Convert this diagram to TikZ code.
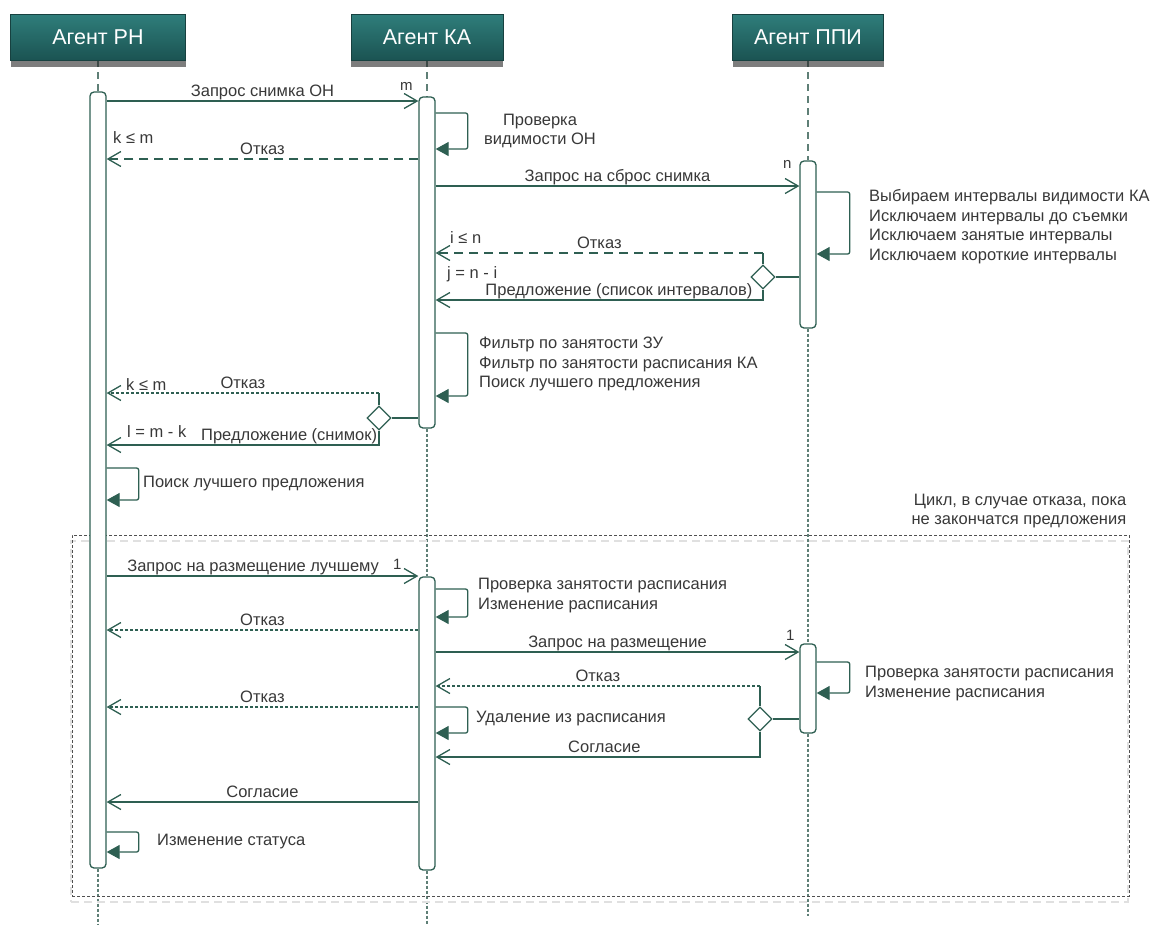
\documentclass[tikz,border=0pt]{standalone}
\usepackage{fontspec}
\setmainfont{Liberation Sans}
\usetikzlibrary{arrows.meta,positioning,shapes.geometric,shadows,backgrounds,fit,calc}
\definecolor{agent_header_top}{HTML}{2F7E7B}
\definecolor{agent_header_bottom}{HTML}{1B5352}
\definecolor{agent_header_border}{HTML}{174140}
\definecolor{message_line_colour}{HTML}{2E5F52}
\definecolor{lifeline_colour}{HTML}{5E7F76}
\definecolor{label_text_colour}{HTML}{383838}
\definecolor{loop_frame_colour}{HTML}{505050}
\tikzstyle{agent_header} = [rectangle,draw=agent_header_border,top color=agent_header_top,bottom color=agent_header_bottom,minimum height=46pt,text=white,font=\fontsize{21.5}{25}\selectfont,drop shadow={shadow xshift=0pt,shadow yshift=-7pt,opacity=0.6,fill=black!85}]
\tikzstyle{activation_bar} = [rectangle,rounded corners=4pt,draw=message_line_colour,fill=white,line width=1.3pt,minimum width=16pt,inner sep=0pt]
\tikzstyle{choice_diamond} = [diamond,draw=message_line_colour,fill=white,line width=1.3pt,minimum width=24pt,minimum height=24pt,inner sep=0pt]
\tikzstyle{plain_line} = [draw=message_line_colour,line width=1.3pt]
\tikzstyle{message} = [plain_line,-{Straight Barb[length=13pt,width=15pt]}]
\tikzstyle{reply_dashed} = [message,dash pattern=on 9pt off 6pt]
\tikzstyle{reply_dotted} = [message,dash pattern=on 3pt off 2pt]
\tikzstyle{self_loop} = [plain_line,rounded corners=2pt,-{Triangle[length=13pt,width=14pt]}]
\tikzstyle{lifeline_long} = [draw=lifeline_colour,line width=1.3pt,dash pattern=on 7pt off 5pt]
\tikzstyle{lifeline_short} = [draw=lifeline_colour,line width=1.3pt,dash pattern=on 3pt off 2pt]
\tikzstyle{loop_frame} = [draw=loop_frame_colour,line width=0.9pt,dash pattern=on 3pt off 2pt,inner sep=0pt]
\tikzstyle{message_label} = [font=\fontsize{16.5}{19.5}\selectfont,text=label_text_colour,inner sep=1pt,text depth=3pt]
\tikzstyle{note_text} = [font=\fontsize{16.5}{19.5}\selectfont,text=label_text_colour,inner sep=1pt,align=left,anchor=west]
\tikzstyle{guard_label} = [font=\fontsize{16.5}{19.5}\selectfont,text=label_text_colour,inner sep=0pt,anchor=base west]
\tikzstyle{count_label} = [font=\fontsize{15}{17}\selectfont,text=label_text_colour,inner sep=0pt,anchor=base west]

\begin{document}
\begin{tikzpicture}[x=1pt,y=-1pt]
    \useasboundingbox (0,0) rectangle (1155,930);

    % Agents
    \node[agent_header,minimum width=175pt] (agent_rn_header) at (98,37) {Агент РН};
    \node[agent_header,minimum width=152pt] (agent_ka_header) at (427,37) {Агент КА};
    \node[agent_header,minimum width=151pt] (agent_ppi_header) at (808,37) {Агент ППИ};

    % Activation bars
    \node[activation_bar,minimum height=776pt] (agent_rn_activation) at (98,480) {};
    \node[activation_bar,minimum height=331pt] (agent_ka_first_activation) at (427,262.5) {};
    \node[activation_bar,minimum height=293pt] (agent_ka_second_activation) at (427,723.5) {};
    \node[activation_bar,minimum height=167pt] (agent_ppi_first_activation) at (808,244.5) {};
    \node[activation_bar,minimum height=89pt] (agent_ppi_second_activation) at (808,688.5) {};

    % Lifelines
    \coordinate (agent_rn_end) at (98,925);
    \coordinate (agent_ka_end) at (427,925);
    \coordinate (agent_ppi_end) at (808,916);
    \begin{scope}[on background layer]
        \draw[lifeline_long] (agent_rn_header.south) -- (agent_rn_activation.north);
        \draw[lifeline_short] (agent_rn_activation.south) -- (agent_rn_end);
        \draw[lifeline_long] (agent_ka_header.south) -- (agent_ka_first_activation.north);
        \draw[lifeline_short] (agent_ka_first_activation.south) -- (agent_ka_second_activation.north);
        \draw[lifeline_short] (agent_ka_second_activation.south) -- (agent_ka_end);
        \draw[lifeline_long] (agent_ppi_header.south) -- (agent_ppi_first_activation.north);
        \draw[lifeline_short] (agent_ppi_first_activation.south) -- (agent_ppi_second_activation.north);
        \draw[lifeline_short] (agent_ppi_second_activation.south) -- (agent_ppi_end);
    \end{scope}

    % Photo request
    \coordinate (photo_request_row) at (0,101);
    \draw[message] (agent_rn_activation.east |- photo_request_row) -- (agent_ka_first_activation.west |- photo_request_row) node[message_label,midway,above]{Запрос снимка ОН};
    \node[count_label] (photo_request_count) at (400,90) {m};

    \coordinate (visibility_check_top) at (0,113);
    \coordinate (visibility_check_bottom) at (0,149);
    \draw[self_loop] (agent_ka_first_activation.east |- visibility_check_top) -- ++(32,0) |- (agent_ka_first_activation.east |- visibility_check_bottom);
    \node[note_text,align=center,anchor=center] (visibility_check_note) at (540,131) {Проверка\\видимости ОН};

    \coordinate (visibility_refusal_row) at (0,159);
    \draw[reply_dashed] (agent_ka_first_activation.west |- visibility_refusal_row) -- (agent_rn_activation.east |- visibility_refusal_row) node[message_label,midway,above]{Отказ};
    \node[guard_label] (visibility_refusal_guard) at (113,143) {k ≤ m};

    % Drop request to PPI
    \coordinate (drop_request_row) at (0,186);
    \draw[message] (agent_ka_first_activation.east |- drop_request_row) -- (agent_ppi_first_activation.west |- drop_request_row) node[message_label,midway,above]{Запрос на сброс снимка};
    \node[count_label] (drop_request_count) at (783,168) {n};

    \coordinate (interval_selection_top) at (0,192);
    \coordinate (interval_selection_bottom) at (0,254);
    \draw[self_loop] (agent_ppi_first_activation.east |- interval_selection_top) -- ++(33,0) |- (agent_ppi_first_activation.east |- interval_selection_bottom);
    \node[note_text] (interval_selection_note) at (868,226.5) {Выбираем интервалы видимости КА\\Исключаем интервалы до съемки\\Исключаем занятые интервалы\\Исключаем короткие интервалы};

    \node[choice_diamond] (interval_choice) at (763,277) {};
    \coordinate (interval_refusal_row) at (0,253);
    \coordinate (interval_offer_row) at (0,300);
    \draw[plain_line] (interval_choice.east) -- (agent_ppi_first_activation.west |- interval_choice);
    \draw[plain_line] (interval_choice.north) -- (interval_choice.north |- interval_refusal_row);
    \draw[reply_dashed] (interval_choice.north |- interval_refusal_row) -- (agent_ka_first_activation.east |- interval_refusal_row) node[message_label,midway,above]{Отказ};
    \draw[message] (interval_choice.south) |- (agent_ka_first_activation.east |- interval_offer_row) node[message_label,pos=0.72,above]{Предложение (список интервалов)};
    \node[guard_label] (interval_refusal_guard) at (450,243) {i ≤ n};
    \node[guard_label] (interval_offer_guard) at (447,278) {j = n - i};

    % Filtering on KA
    \coordinate (offer_filter_top) at (0,333);
    \coordinate (offer_filter_bottom) at (0,396);
    \draw[self_loop] (agent_ka_first_activation.east |- offer_filter_top) -- ++(32,0) |- (agent_ka_first_activation.east |- offer_filter_bottom);
    \node[note_text] (offer_filter_note) at (478,364) {Фильтр по занятости ЗУ\\Фильтр по занятости расписания КА\\Поиск лучшего предложения};

    \node[choice_diamond] (photo_choice) at (379,418) {};
    \coordinate (photo_refusal_row) at (0,393);
    \coordinate (photo_offer_row) at (0,445);
    \draw[plain_line] (photo_choice.east) -- (agent_ka_first_activation.west |- photo_choice);
    \draw[plain_line] (photo_choice.north) -- (photo_choice.north |- photo_refusal_row);
    \draw[reply_dotted] (photo_choice.north |- photo_refusal_row) -- (agent_rn_activation.east |- photo_refusal_row) node[message_label,midway,above]{Отказ};
    \draw[message] (photo_choice.south) |- (agent_rn_activation.east |- photo_offer_row) node[message_label,pos=0.665,above]{Предложение (снимок)};
    \node[guard_label] (photo_refusal_guard) at (126,390) {k ≤ m};
    \node[guard_label] (photo_offer_guard) at (127,437) {l = m - k};

    \coordinate (best_offer_top) at (0,468);
    \coordinate (best_offer_bottom) at (0,500);
    \draw[self_loop] (agent_rn_activation.east |- best_offer_top) -- ++(32,0) |- (agent_rn_activation.east |- best_offer_bottom);
    \node[note_text] (best_offer_note) at (142,484) {Поиск лучшего предложения};

    % Repeat frame
    \coordinate (repeat_frame_top_left) at (72,535);
    \coordinate (repeat_frame_bottom_right) at (1129,896);
    \begin{scope}[on background layer]
        \node[fit=(repeat_frame_top_left)(repeat_frame_bottom_right),inner sep=0pt,draw=black!12,line width=2.5pt,dash pattern=on 8pt off 5pt,xshift=-1pt,yshift=-6pt] (repeat_frame_shadow) {};
        \node[loop_frame,fit=(repeat_frame_top_left)(repeat_frame_bottom_right)] (repeat_frame) {};
    \end{scope}
    \node[note_text,align=right,anchor=south east,above left=5pt and 2pt of repeat_frame.north east] (repeat_frame_note) {Цикл, в случае отказа, пока\\не закончатся предложения};

    % Placement request
    \coordinate (placement_request_row) at (0,576);
    \draw[message] (agent_rn_activation.east |- placement_request_row) -- (agent_ka_second_activation.west |- placement_request_row) node[message_label,pos=0.47,above]{Запрос на размещение лучшему};
    \node[count_label] (placement_request_count) at (393,569) {1};

    \coordinate (ka_schedule_check_top) at (0,589);
    \coordinate (ka_schedule_check_bottom) at (0,617);
    \draw[self_loop] (agent_ka_second_activation.east |- ka_schedule_check_top) -- ++(32,0) |- (agent_ka_second_activation.east |- ka_schedule_check_bottom);
    \node[note_text] (ka_schedule_check_note) at (477,595.5) {Проверка занятости расписания\\Изменение расписания};

    \coordinate (ka_schedule_refusal_row) at (0,630);
    \draw[reply_dotted] (agent_ka_second_activation.west |- ka_schedule_refusal_row) -- (agent_rn_activation.east |- ka_schedule_refusal_row) node[message_label,midway,above]{Отказ};

    \coordinate (ppi_placement_row) at (0,652);
    \draw[message] (agent_ka_second_activation.east |- ppi_placement_row) -- (agent_ppi_second_activation.west |- ppi_placement_row) node[message_label,midway,above]{Запрос на размещение};
    \node[count_label] (ppi_placement_count) at (786,640) {1};

    \coordinate (ppi_schedule_check_top) at (0,662);
    \coordinate (ppi_schedule_check_bottom) at (0,693);
    \draw[self_loop] (agent_ppi_second_activation.east |- ppi_schedule_check_top) -- ++(33,0) |- (agent_ppi_second_activation.east |- ppi_schedule_check_bottom);
    \node[note_text] (ppi_schedule_check_note) at (864,683.5) {Проверка занятости расписания\\Изменение расписания};

    \node[choice_diamond] (placement_choice) at (760,719) {};
    \coordinate (placement_refusal_row) at (0,686);
    \coordinate (placement_agreement_row) at (0,757);
    \draw[plain_line] (placement_choice.east) -- (agent_ppi_second_activation.west |- placement_choice);
    \draw[plain_line] (placement_choice.north) -- (placement_choice.north |- placement_refusal_row);
    \draw[reply_dotted] (placement_choice.north |- placement_refusal_row) -- (agent_ka_second_activation.east |- placement_refusal_row) node[message_label,midway,above]{Отказ};
    \draw[message] (placement_choice.south) |- (agent_ka_second_activation.east |- placement_agreement_row) node[message_label,pos=0.74,above]{Согласие};

    \coordinate (schedule_removal_top) at (0,707);
    \coordinate (schedule_removal_bottom) at (0,733);
    \draw[self_loop] (agent_ka_second_activation.east |- schedule_removal_top) -- ++(32,0) |- (agent_ka_second_activation.east |- schedule_removal_bottom);
    \node[note_text] (schedule_removal_note) at (475,719) {Удаление из расписания};

    % Answers to RN
    \coordinate (final_refusal_row) at (0,707);
    \draw[reply_dotted] (agent_ka_second_activation.west |- final_refusal_row) -- (agent_rn_activation.east |- final_refusal_row) node[message_label,midway,above]{Отказ};
    \coordinate (final_agreement_row) at (0,802);
    \draw[message] (agent_ka_second_activation.west |- final_agreement_row) -- (agent_rn_activation.east |- final_agreement_row) node[message_label,midway,above]{Согласие};

    \coordinate (status_change_top) at (0,832);
    \coordinate (status_change_bottom) at (0,852);
    \draw[self_loop] (agent_rn_activation.east |- status_change_top) -- ++(32,0) |- (agent_rn_activation.east |- status_change_bottom);
    \node[note_text] (status_change_note) at (156,842) {Изменение статуса};

\end{tikzpicture}
\end{document}
